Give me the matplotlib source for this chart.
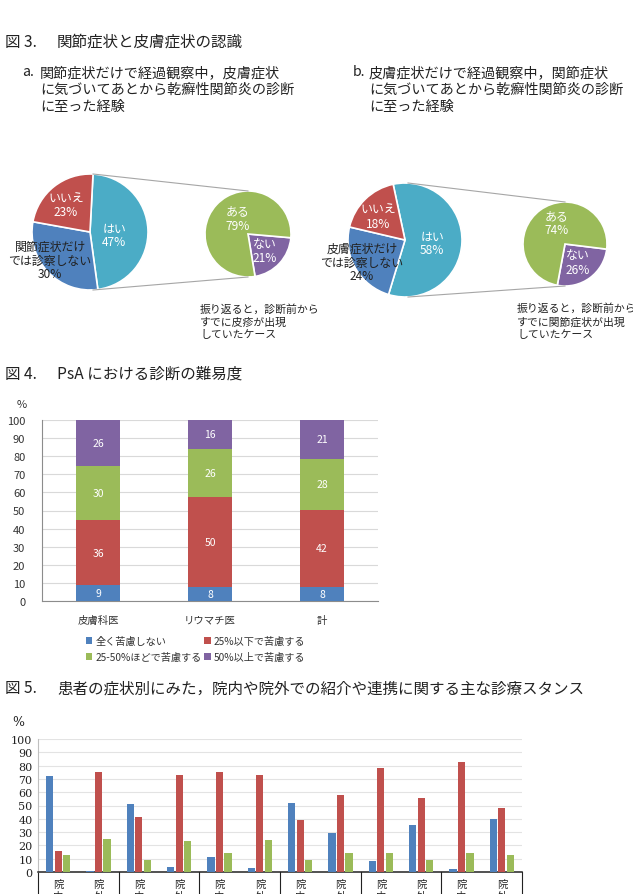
import matplotlib
matplotlib.use("Agg")
import matplotlib.pyplot as plt
import numpy as np

plt.rcParams['font.family'] = ['Noto Sans CJK JP', 'DejaVu Sans']

W, H = 633, 895

# 図3 data
pie_a_values = [47, 30, 23]          # はい, 診察しない, いいえ
pie_a_texts = ['はい\n47%', '関節症状だけ\nでは診察しない\n30%', 'いいえ\n23%']
sub_a_values = [21, 79]              # ない, ある
sub_a_texts = ['ない\n21%', 'ある\n79%']
pie_b_values = [58, 24, 18]
pie_b_texts = ['はい\n58%', '皮膚症状だけ\nでは診察しない\n24%', 'いいえ\n18%']
sub_b_values = [26, 74]
sub_b_texts = ['ない\n26%', 'ある\n74%']

# 図4 data
doctors = ['皮膚科医', 'リウマチ医', '計']
diff_names = ['全く苦慮しない', '25%以下で苦慮する', '25-50%ほどで苦慮する', '50%以上で苦慮する']
diff_none = [8.6, 7.6, 7.9]
diff_low = [35.9, 50.0, 42.4]
diff_mid = [29.9, 26.4, 28.4]
diff_high = [25.6, 16.0, 21.3]

# 図5 data
stance_ticks = ['院\n内', '院\n外'] * 6
stance_blue = [72, 1, 51, 4, 11, 3, 52, 29, 8, 35, 2, 40]
stance_red = [16, 75, 41, 73, 75, 73, 39, 58, 78, 56, 83, 48]
stance_green = [13, 25, 9, 23, 14, 24, 9, 14, 14, 9, 14, 13]

BLUE, RED, GREEN, PURPLE, TEAL = '#4F81BD', '#C0504D', '#9BBB59', '#8064A2', '#4BACC6'
INK = '#222222'

fig = plt.figure(figsize=(W / 100, H / 100), dpi=100)


def px_axes(x0, y0, x1, y1):
    return fig.add_axes([x0 / W, 1 - y1 / H, (x1 - x0) / W, (y1 - y0) / H])


def ftext(x, y, s, **kw):
    kw.setdefault('va', 'center')
    return fig.text(x / W, 1 - y / H, s, **kw)


def title(y, num, s):
    ftext(5, y, num, fontsize=11.2, color=INK)
    ftext(57, y, s, fontsize=11.2, color=INK)


# ---------------- 図3 ----------------
title(42, '図 3.', '関節症状と皮膚症状の認識')
ftext(22, 72, 'a.', fontsize=10.2, color=INK)
ftext(40, 90, '関節症状だけで経過観察中，皮膚症状\nに気づいてあとから乾癬性関節炎の診断\nに至った経験',
      fontsize=10.2, color=INK, linespacing=1.25)
ftext(353, 72, 'b.', fontsize=10.2, color=INK)
ftext(369, 90, '皮膚症状だけで経過観察中，関節症状\nに気づいてあとから乾癬性関節炎の診断\nに至った経験',
      fontsize=10.2, color=INK, linespacing=1.25)

ov = fig.add_axes([0, 0, 1, 1], zorder=-1)
wp = dict(edgecolor='white', linewidth=1.2)


def pie_pair(big_vals, big_start, big_c, big_r, sub_vals, sub_start, sub_c, sub_r):
    ov.pie(big_vals, colors=[TEAL, BLUE, RED], startangle=big_start, counterclock=False,
           center=(big_c[0], H - big_c[1]), radius=big_r, wedgeprops=wp, frame=True)
    ov.pie(sub_vals, colors=[PURPLE, GREEN], startangle=sub_start, counterclock=False,
           center=(sub_c[0], H - sub_c[1]), radius=sub_r, explode=[0.04, 0], wedgeprops=wp,
           frame=True)
    # connector lines
    ov.plot([big_c[0] + 3, sub_c[0]], [H - big_c[1] + big_r, H - sub_c[1] + sub_r],
            color='#A6A6A6', lw=0.8)
    ov.plot([big_c[0] + 3, sub_c[0]], [H - big_c[1] - big_r, H - sub_c[1] - sub_r],
            color='#A6A6A6', lw=0.8)


pie_pair(pie_a_values, 87, (90, 233), 58, sub_a_values, -5, (248, 235), 43)
pie_pair(pie_b_values, 102, (405, 241), 57, sub_b_values, -7, (565, 245), 42)
ov.set_xlim(0, W)
ov.set_ylim(0, H)
ov.set_aspect('auto')
ov.axis('off')

lab = dict(fontsize=8.6, ha='center', linespacing=1.1, multialignment='center')
ftext(114, 236, pie_a_texts[0], color='white', **lab)
ftext(50, 261, pie_a_texts[1], color=INK, **lab)
ftext(66, 206, pie_a_texts[2], color='white', **lab)
ftext(265, 252, sub_a_texts[0], color='white', **lab)
ftext(238, 219, sub_a_texts[1], color='white', **lab)
ftext(432, 244, pie_b_texts[0], color='white', **lab)
ftext(362, 263, pie_b_texts[1], color=INK, **lab)
ftext(378, 217, pie_b_texts[2], color='white', **lab)
ftext(578, 263, sub_b_texts[0], color='white', **lab)
ftext(557, 224, sub_b_texts[1], color='white', **lab)

ftext(200, 322, '振り返ると，診断前から\nすでに皮疹が出現\nしていたケース',
      fontsize=7.8, color=INK, linespacing=1.35)
ftext(517, 322, '振り返ると，診断前から\nすでに関節症状が出現\nしていたケース',
      fontsize=7.8, color=INK, linespacing=1.35)

# ---------------- 図4 ----------------
title(374, '図 4.', 'PsA における診断の難易度')
ftext(22, 405, '%', fontsize=8, color='#333333', ha='center')

ax4 = px_axes(42, 421, 378, 602)
x4 = np.arange(len(doctors))
bottom = np.zeros(len(doctors))
handles = []
for vals, col in zip([diff_none, diff_low, diff_mid, diff_high], [BLUE, RED, GREEN, PURPLE]):
    bc = ax4.bar(x4, vals, 0.39, bottom=bottom, color=col, zorder=3)
    ax4.bar_label(bc, labels=[f'{v:.0f}' for v in vals], label_type='center',
                  color='white', fontsize=7.5)
    bottom += np.array(vals)
    handles.append(bc)
ax4.set_xlim(-0.5, 2.5)
ax4.set_ylim(0, 100)
ax4.set_yticks(range(0, 101, 10))
ax4.set_xticks(x4, doctors)
ax4.tick_params(axis='y', length=0, labelsize=8, labelcolor='#333333', pad=12)
ax4.tick_params(axis='x', length=0, labelsize=7.5, labelcolor='#333333', pad=10)
ax4.grid(axis='y', color='#D9D9D9', lw=0.8, zorder=0)
for s in ['top', 'right']:
    ax4.spines[s].set_visible(False)
ax4.spines['left'].set_color('#8C8C8C')
ax4.spines['bottom'].set_color('#8C8C8C')

order = [0, 2, 1, 3]
fig.legend([handles[i] for i in order], [diff_names[i] for i in order], ncol=2,
           loc='upper left', bbox_to_anchor=(81 / W, 1 - 632 / H), frameon=False,
           fontsize=7.3, handlelength=0.6, handleheight=0.6, handletextpad=0.3,
           columnspacing=0.3, labelspacing=0.55, borderpad=0, labelcolor='#333333')

# ---------------- 図5 ----------------
title(689, '図 5.', '患者の症状別にみた，院内や院外での紹介や連携に関する主な診療スタンス')
ftext(18, 723, '%', fontsize=9, color=INK, ha='center', family='DejaVu Serif')

ax5 = px_axes(38, 740, 522, 873)
x5 = np.arange(len(stance_blue))
bw = 0.18
ax5.bar(x5 - 0.21, stance_blue, bw, color=BLUE, zorder=3)
ax5.bar(x5, stance_red, bw, color=RED, zorder=3)
ax5.bar(x5 + 0.21, stance_green, bw, color=GREEN, zorder=3)
ax5.set_xlim(-0.5, len(x5) - 0.5)
ax5.set_ylim(0, 100)
ax5.set_yticks(range(0, 101, 10))
ax5.set_yticklabels([str(v) for v in range(0, 101, 10)], family='DejaVu Serif')
ax5.tick_params(axis='y', length=0, labelsize=8, labelcolor=INK, pad=4)
ax5.set_xticks(x5, stance_ticks)
ax5.tick_params(axis='x', length=0, labelsize=7.5, pad=5, labelcolor=INK)
for lbl in ax5.get_xticklabels():
    lbl.set_linespacing(1.2)
ax5.grid(axis='y', color='#E3E3E3', lw=0.8, zorder=0)
for s in ['top', 'right']:
    ax5.spines[s].set_visible(False)
ax5.spines['left'].set_color('#BFBFBF')
ax5.spines['bottom'].set_color(INK)
ax5.spines['bottom'].set_linewidth(1.1)
trans = ax5.get_xaxis_transform()
for xb in np.arange(-0.5, len(x5), 2):
    ax5.plot([xb, xb], [0, -0.25], color=INK, lw=0.8, transform=trans, clip_on=False)

fig.savefig('out.png', dpi=100)
